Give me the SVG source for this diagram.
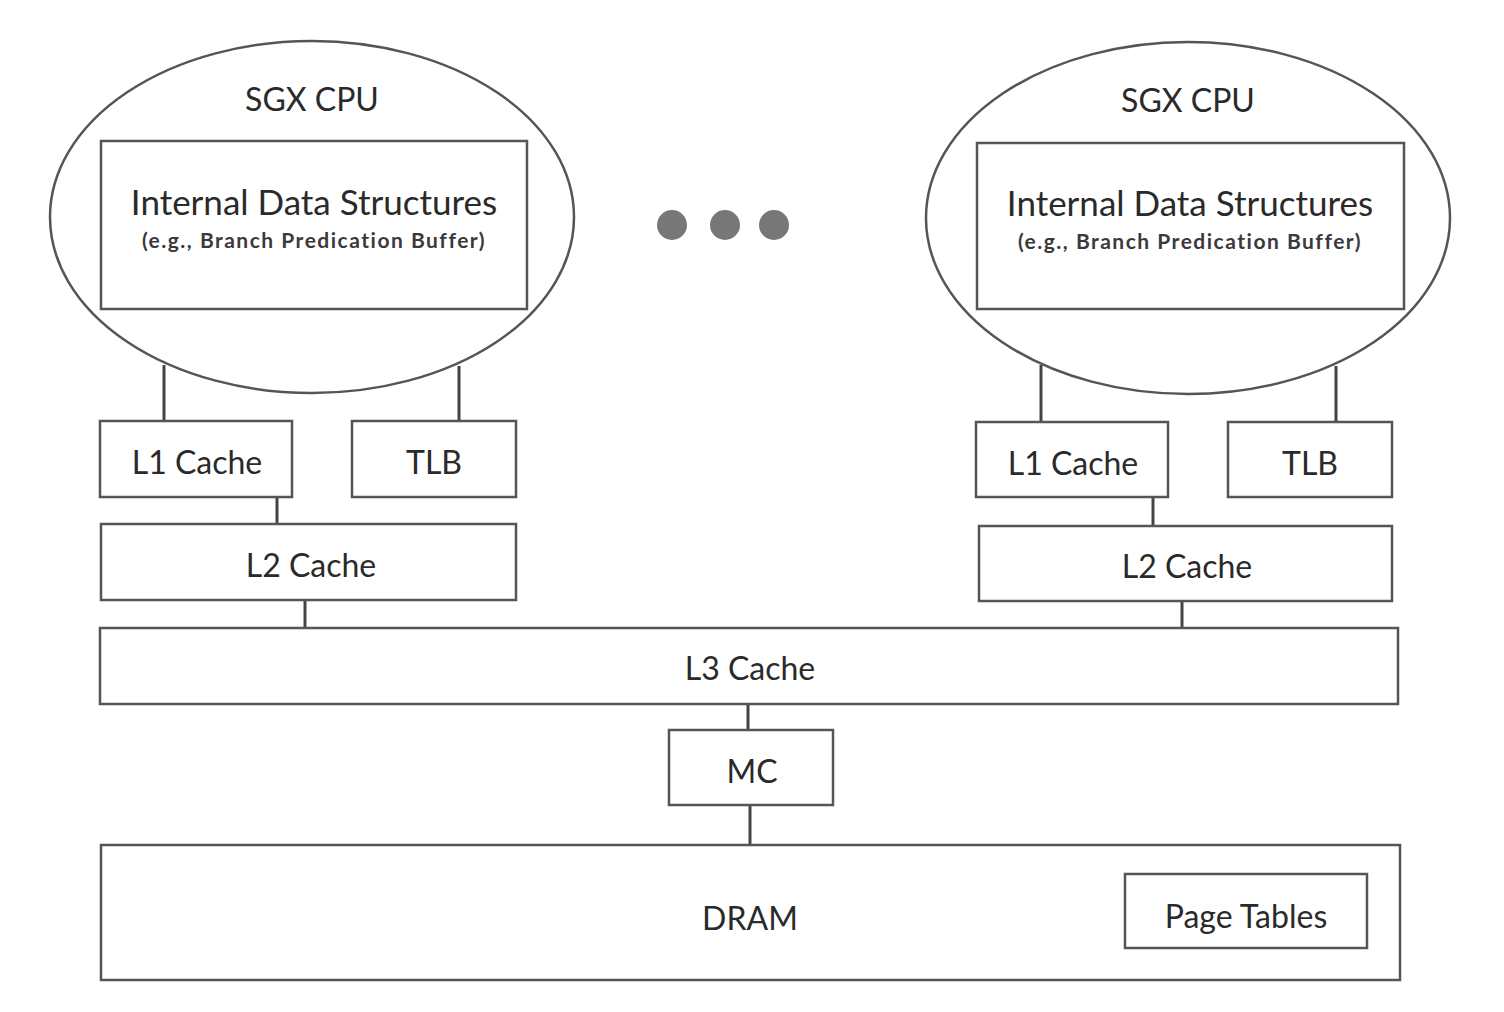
<svg xmlns="http://www.w3.org/2000/svg" width="1504" height="1012" viewBox="0 0 1504 1012">
<style>
.s{fill:#fff;stroke:#555;stroke-width:2.5}
.c{stroke:#444;stroke-width:3;fill:none}
text{font-family:Lato,"Open Sans","Liberation Sans",sans-serif;fill:#2a2a2a;text-anchor:middle}
.t{font-size:32px}
.h{font-size:35px}
.sub{font-size:21px;font-weight:bold;fill:#3a3a3a;letter-spacing:1.5px}
</style>
<rect width="1504" height="1012" fill="#fff"/>
<g id="connectors">
<line class="c" x1="164" y1="365" x2="164" y2="421"/>
<line class="c" x1="459" y1="366" x2="459" y2="421"/>
<line class="c" x1="277" y1="497" x2="277" y2="524"/>
<line class="c" x1="305" y1="600" x2="305" y2="628"/>
<line class="c" x1="1041" y1="365" x2="1041" y2="422"/>
<line class="c" x1="1336" y1="366" x2="1336" y2="422"/>
<line class="c" x1="1153" y1="497" x2="1153" y2="526"/>
<line class="c" x1="1182" y1="601" x2="1182" y2="628"/>
<line class="c" x1="748" y1="704" x2="748" y2="730"/>
<line class="c" x1="750" y1="805" x2="750" y2="845"/>
</g>
<g id="cpu1">
<ellipse class="s" cx="312" cy="217" rx="262" ry="176"/>
<text class="t" x="312" y="111">SGX CPU</text>
</g>
<g id="ids1">
<rect class="s" x="101" y="141" width="426" height="168"/>
<text class="h" x="314" y="215">Internal Data Structures</text>
<text class="sub" x="314" y="248">(e.g., Branch Predication Buffer)</text>
</g>
<g id="cpu2">
<ellipse class="s" cx="1188" cy="218" rx="262" ry="176"/>
<text class="t" x="1188" y="112">SGX CPU</text>
</g>
<g id="ids2">
<rect class="s" x="977" y="143" width="427" height="166"/>
<text class="h" x="1190" y="216">Internal Data Structures</text>
<text class="sub" x="1190" y="249">(e.g., Branch Predication Buffer)</text>
</g>
<g id="dots" fill="#777">
<circle cx="672" cy="225" r="15"/>
<circle cx="725" cy="225" r="15"/>
<circle cx="774" cy="225" r="15"/>
</g>
<g id="l1a"><rect class="s" x="100" y="421" width="192" height="76"/><text class="t" x="197" y="474">L1 Cache</text></g>
<g id="tlba"><rect class="s" x="352" y="421" width="164" height="76"/><text class="t" x="434" y="474">TLB</text></g>
<g id="l2a"><rect class="s" x="101" y="524" width="415" height="76"/><text class="t" x="311" y="577">L2 Cache</text></g>
<g id="l1b"><rect class="s" x="976" y="422" width="192" height="75"/><text class="t" x="1073" y="475">L1 Cache</text></g>
<g id="tlbb"><rect class="s" x="1228" y="422" width="164" height="75"/><text class="t" x="1310" y="475">TLB</text></g>
<g id="l2b"><rect class="s" x="979" y="526" width="413" height="75"/><text class="t" x="1187" y="578">L2 Cache</text></g>
<g id="l3"><rect class="s" x="100" y="628" width="1298" height="76"/><text class="t" x="750" y="680">L3 Cache</text></g>
<g id="mc"><rect class="s" x="669" y="730" width="164" height="75"/><text class="t" x="752" y="783">MC</text></g>
<g id="dram"><rect class="s" x="101" y="845" width="1299" height="135"/><text class="t" x="750" y="930">DRAM</text></g>
<g id="pt"><rect class="s" x="1125" y="874" width="242" height="74"/><text class="t" x="1246" y="928">Page Tables</text></g>
</svg>
